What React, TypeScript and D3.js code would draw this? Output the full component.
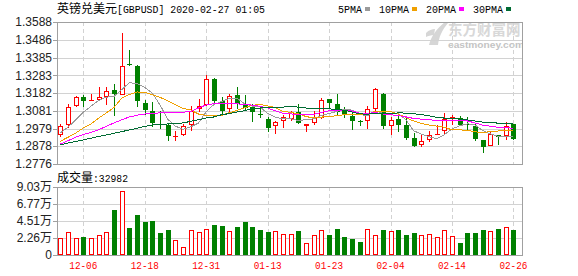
import React from "react";
import * as d3 from "d3";

// Trading days shown on the chart
const dates = [
  "12-03","12-04","12-05","12-06","12-09","12-10","12-11","12-12","12-13","12-16",
  "12-17","12-18","12-19","12-20","12-23","12-24","12-26","12-27","12-30","12-31",
  "01-02","01-03","01-06","01-07","01-08","01-09","01-10","01-13","01-14","01-15",
  "01-16","01-17","01-20","01-21","01-22","01-23","01-24","01-27","01-28","01-29",
  "01-30","01-31","02-03","02-04","02-05","02-06","02-07","02-10","02-11","02-12",
  "02-13","02-14","02-17","02-18","02-19","02-20","02-21","02-24","02-25","02-26",
];

const opens = [
  1.2940,1.2997,1.3106,1.3159,1.3140,1.3144,1.3157,1.3199,1.3172,1.3346,
  1.3335,1.3125,1.3077,1.3005,1.3001,1.2934,1.2940,1.2997,1.3092,1.3115,
  1.3262,1.3135,1.3092,1.3169,1.3119,1.3100,1.3060,1.3033,1.2992,1.3020,
  1.3035,1.3072,1.2992,1.3009,1.3039,1.3146,1.3119,1.3081,1.3052,1.3022,
  1.3020,1.3092,1.3176,1.2992,1.3033,1.3001,1.2925,1.2886,1.2912,1.2948,
  1.2963,1.3037,1.3039,1.3006,1.2992,1.2912,1.2881,1.2944,1.2938,1.3005,
];
const highs = [
  1.3005,1.3119,1.3165,1.3172,1.3178,1.3216,1.3216,1.3234,1.3525,1.3426,
  1.3344,1.3140,1.3131,1.3081,1.3009,1.2963,1.3006,1.3109,1.3148,1.3283,
  1.3268,1.3159,1.3176,1.3216,1.3169,1.3119,1.3100,1.3047,1.3020,1.3058,
  1.3077,1.3119,1.3007,1.3077,1.3153,1.3148,1.3176,1.3100,1.3068,1.3029,
  1.3106,1.3211,1.3182,1.3045,1.3062,1.3049,1.2953,1.2940,1.2963,1.3001,
  1.3068,1.3058,1.3049,1.3045,1.3005,1.2912,1.2963,1.2944,1.3015,1.3005,
];
const lows = [
  1.2929,1.2982,1.3104,1.3102,1.3135,1.3135,1.3112,1.3052,1.3169,1.3335,
  1.3100,1.3055,1.2988,1.2978,1.2906,1.2909,1.2938,1.2966,1.3073,1.3106,
  1.3125,1.3058,1.3068,1.3092,1.3087,1.3015,1.3039,1.2959,1.2949,1.2982,
  1.3024,1.3007,1.2959,1.2997,1.3035,1.3096,1.3058,1.3039,1.2972,1.2992,
  1.2978,1.3081,1.2978,1.2940,1.2957,1.2915,1.2872,1.2872,1.2902,1.2940,
  1.2940,1.3001,1.2992,1.2972,1.2906,1.2839,1.2877,1.2883,1.2915,1.2912,
];
const closes = [
  1.2992,1.3100,1.3157,1.3138,1.3144,1.3159,1.3193,1.3178,1.3335,1.3340,
  1.3135,1.3083,1.3009,1.2997,1.2934,1.2938,1.2992,1.3081,1.3106,1.3262,
  1.3138,1.3081,1.3167,1.3119,1.3096,1.3072,1.3056,1.2982,1.3015,1.3047,
  1.3072,1.3009,1.3005,1.3039,1.3142,1.3127,1.3073,1.3055,1.3024,1.3019,
  1.3091,1.3205,1.2995,1.3026,1.3001,1.2925,1.2881,1.2906,1.2944,1.2950,
  1.3035,1.3045,1.3001,1.2997,1.2921,1.2873,1.2949,1.2930,1.2995,1.2921,
];
const volumes = [
  22100,30100,22100,23900,22100,26100,30100,59800,84500,35900,
  53100,43800,45100,29200,33200,19500,10600,32800,30500,34500,
  39800,38500,31900,37200,43800,37200,33200,30500,31900,27900,
  27900,31900,15900,26600,33200,26600,34500,23900,21200,17300,
  34500,26600,33200,31900,33200,26600,29200,26600,27900,23900,
  33200,25200,15900,29200,29200,33200,31900,34500,37200,32982,
];

// Moving-average values before enough closes are on the chart
const ma5Lead = [1.2953, 1.2986, 1.3029, 1.3073];
const ma10Lead = [1.2906, 1.2929, 1.2953, 1.2982, 1.3005, 1.3039, 1.3068, 1.3100, 1.3153];
const ma20Lead = [
  1.2890,1.2909,1.2929,1.2944,1.2957,1.2972,1.2992,1.3011,1.3029,1.3045,
  1.3055,1.3062,1.3066,1.3068,1.3069,1.3071,1.3072,1.3077,1.3096,
];
const ma30Lead = [
  1.2886,1.2896,1.2905,1.2914,1.2924,1.2933,1.2942,1.2952,1.2961,1.2971,
  1.2980,1.2991,1.2999,1.3002,1.3005,1.3007,1.3011,1.3020,1.3029,1.3039,
  1.3045,1.3058,1.3064,1.3073,1.3081,1.3092,1.3096,1.3100,1.3100,
];

const priceTicks = ["1.3588","1.3486","1.3385","1.3283","1.3182","1.3081","1.2979","1.2878","1.2776"];
const volTickValues = [90300, 67725, 45150, 22575, 0];
const volTickLabels = ["9.03万", "6.77万", "4.51万", "2.26万", "0"];
const labelDates = ["12-06","12-18","12-31","01-13","01-23","02-04","02-14","02-26"];

const maNames = ["5PMA", "10PMA", "20PMA", "30PMA"];
const maColors = ["#9a9a9a", "#f0a000", "#ff00ff", "#006b33"];

const UP = "#ff0000";
const DOWN = "#008000";
const GRID = "#d2d2d2";
const FRAME = "#a0a0a0";

const W = 578, H = 276;
const left = 57, right = 522;
const pTop = 22, pBot = 164;
const vTop = 187, vBot = 255;

function movingAverage(lead: number[], n: number): number[] {
  return closes.map((_, i) => {
    if (i < lead.length) return lead[i];
    return d3.mean(closes.slice(i - n + 1, i + 1)) as number;
  });
}

const cjk = '"Noto Sans CJK SC", "Liberation Sans", sans-serif';
const mono = '"Liberation Mono", "DejaVu Sans Mono", monospace';
const sans = '"Liberation Sans", Arial, "Noto Sans CJK SC", sans-serif';

export default function App() {
  const x = d3.scalePoint<string>().domain(dates).range([60.3, 513.4]);
  const y = d3.scaleLinear().domain([1.2776, 1.3588]).range([pBot, pTop]);
  const yv = d3.scaleLinear().domain([0, 90300]).range([vBot, vTop]);

  const mas = [
    movingAverage(ma5Lead, 5),
    movingAverage(ma10Lead, 10),
    movingAverage(ma20Lead, 20),
    movingAverage(ma30Lead, 30),
  ];
  const line = d3
    .line<number>()
    .x((_, i) => x(dates[i]) as number)
    .y((v) => y(v));

  const bodyW = 5;

  // legend layout: label, small colour block, gap
  let lx = 338;
  const legend = maNames.map((name, i) => {
    const tx = lx;
    const bx = tx + name.length * 6 + 3;
    lx = bx + 5 + 9;
    return { name, tx, bx, color: maColors[i] };
  });

  return (
    <svg
      width={W}
      height={H}
      viewBox={`0 0 ${W} ${H}`}
      style={{ position: "absolute", left: 0, top: 0, background: "#fff" }}
    >
      <rect x={0} y={0} width={W} height={H} fill="#fff" />

      {/* title */}
      <text x={57} y={13} fontFamily={cjk} fontSize={12} fill="#000">英镑兑美元</text>
      <text x={117} y={13} fontFamily={mono} fontSize={11} fill="#000" textLength={148} lengthAdjust="spacingAndGlyphs">
        [GBPUSD] 2020-02-27 01:05
      </text>

      {/* legend */}
      {legend.map((d) => (
        <g key={d.name}>
          <text x={d.tx} y={12.5} fontFamily={mono} fontSize={10.5} fill="#000" textLength={d.name.length * 6} lengthAdjust="spacingAndGlyphs">
            {d.name}
          </text>
          <rect x={d.bx} y={7} width={5} height={4} fill={d.color} />
        </g>
      ))}

      {/* watermark */}
      <defs>
        <clipPath id="plotClip">
          <rect x={left} y={pTop} width={right - left} height={pBot - pTop} />
        </clipPath>
      </defs>
      <g clipPath="url(#plotClip)">
        <path
          d="M429,45 C431,37 436,29 445,22 L448,23 C442,30 439,37 438,45 Z"
          fill="#d6d6d6"
        />
        <path d="M426,33 C429,30 432,29 435,29 L434,35 C431,35 428,36 426,37 Z" fill="#d6d6d6" />
        <text x={448} y={34.5} fontFamily={cjk} fontSize={14.5} fontWeight="bold" fill="#d8d8d8">
          东方财富网
          <tspan x={448} y={47.5} fontFamily={sans} fontSize={9} fill="#c4c4c4" textLength={76} lengthAdjust="spacingAndGlyphs">
            eastmoney.com
          </tspan>
        </text>
      </g>

      <g shapeRendering="crispEdges">
        {/* price grid */}
        {priceTicks.slice(1, -1).map((t) => (
          <line key={t} x1={left} x2={right} y1={Math.round(y(+t)) + 0.5} y2={Math.round(y(+t)) + 0.5} stroke={GRID} />
        ))}
        {labelDates.map((d) => {
          const xx = Math.round(x(d) as number) + 0.5;
          return (
            <g key={d}>
              <line x1={xx} x2={xx} y1={pTop} y2={pBot} stroke={GRID} strokeDasharray="4,3" />
              <line x1={xx} x2={xx} y1={vTop} y2={vBot} stroke={GRID} strokeDasharray="4,3" />
            </g>
          );
        })}
        {/* volume grid */}
        {volTickValues.slice(1, -1).map((v) => (
          <line key={v} x1={left} x2={right} y1={Math.round(yv(v)) + 0.5} y2={Math.round(yv(v)) + 0.5} stroke={GRID} />
        ))}

        {/* candles */}
        {dates.map((d, i) => {
          const cx = Math.round(x(d) as number);
          const up = closes[i] >= opens[i];
          const color = up ? UP : DOWN;
          const top = Math.round(y(Math.max(opens[i], closes[i])));
          const bot = Math.round(y(Math.min(opens[i], closes[i])));
          const h = Math.max(1, bot - top);
          return (
            <g key={d}>
              <line x1={cx + 0.5} x2={cx + 0.5} y1={y(highs[i])} y2={y(lows[i])} stroke={color} />
              {up ? (
                <rect x={cx - 1.5} y={top + 0.5} width={bodyW - 1} height={Math.max(0.01, h - 1)} fill="#fff" stroke={color} />
              ) : (
                <rect x={cx - 2} y={top} width={bodyW} height={h} fill={color} />
              )}
            </g>
          );
        })}

        {/* moving averages */}
        {mas.map((m, i) => (
          <path key={maNames[i]} d={line(m) as string} fill="none" stroke={maColors[i]} strokeWidth={1} />
        ))}

        {/* volume bars */}
        {dates.map((d, i) => {
          const cx = Math.round(x(d) as number);
          const up = closes[i] >= opens[i];
          const top = Math.round(yv(volumes[i]));
          return up ? (
            <rect key={d} x={cx - 1.5} y={top + 0.5} width={bodyW - 1} height={vBot - top - 1} fill="#fff" stroke={UP} />
          ) : (
            <rect key={d} x={cx - 2} y={top} width={bodyW} height={vBot - top} fill={DOWN} />
          );
        })}

        {/* frames */}
        <rect x={left + 0.5} y={pTop + 0.5} width={right - left} height={pBot - pTop} fill="none" stroke={FRAME} />
        <rect x={left + 0.5} y={vTop + 0.5} width={right - left} height={vBot - vTop} fill="none" stroke={FRAME} />

        {/* axis ticks */}
        {priceTicks.map((t) => (
          <line key={t} x1={53} x2={left} y1={Math.round(y(+t)) + 0.5} y2={Math.round(y(+t)) + 0.5} stroke={FRAME} />
        ))}
        {volTickValues.map((v) => (
          <line key={v} x1={53} x2={left} y1={Math.round(yv(v)) + 0.5} y2={Math.round(yv(v)) + 0.5} stroke={FRAME} />
        ))}
      </g>

      {/* price labels */}
      {priceTicks.map((t) => (
        <text key={t} x={52} y={y(+t)} dy="0.36em" textAnchor="end" fontFamily={sans} fontSize={12} fill="#222">
          {t}
        </text>
      ))}

      {/* volume labels */}
      {volTickValues.map((v, i) => (
        <text key={v} x={52} y={yv(v)} dy="0.36em" textAnchor="end" fontFamily={sans} fontSize={12} fill="#222">
          {volTickLabels[i]}
        </text>
      ))}
      <text x={57} y={182} fontFamily={cjk} fontSize={12} fill="#000">成交量</text>
      <text x={93} y={182} fontFamily={mono} fontSize={11} fill="#000" textLength={35} lengthAdjust="spacingAndGlyphs">
        :{volumes[volumes.length - 1]}
      </text>

      {/* date labels */}
      {labelDates.map((d) => (
        <text key={d} x={x(d) as number} y={269} textAnchor="middle" fontFamily={mono} fontSize={10.5} fill="#ff0000" textLength={28} lengthAdjust="spacingAndGlyphs">
          {d}
        </text>
      ))}
    </svg>
  );
}
